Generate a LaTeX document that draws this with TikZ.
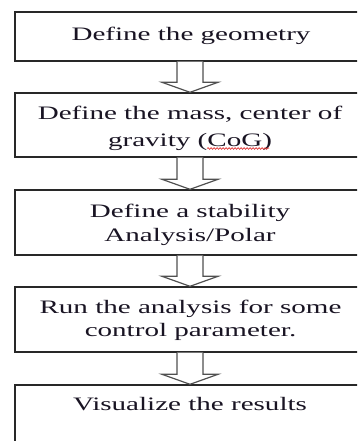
\documentclass[tikz,border=0pt]{standalone}
\usepackage{fontspec}
\setmainfont{Liberation Serif}[FakeStretch=1.53]
\usetikzlibrary{calc,decorations.pathmorphing}
\definecolor{boxline}{RGB}{40,40,40}
\definecolor{arrline}{RGB}{80,80,80}
\definecolor{txt}{RGB}{25,20,35}
\definecolor{spell}{RGB}{220,40,40}
\tikzset{
  stepbox/.style={draw=boxline, line width=1.4pt, fill=white, minimum width=350pt, inner sep=0pt},
  label/.style={anchor=base, text=txt, font=\fontsize{19}{27}\selectfont, inner sep=0pt},
  blockarr/.style={draw=arrline, line width=1.2pt, fill=white, line join=miter},
}
\newcommand{\hollowarrow}[2]{%
  \draw[blockarr] ($(#1.south)+(-13,0)$) -- ($(#2.north)+(-13,-10)$) -- ($(#2.north)+(-28,-10)$)
    -- (#2.north) -- ($(#2.north)+(28,-10)$) -- ($(#2.north)+(13,-10)$) -- ($(#1.south)+(13,0)$);}
\begin{document}
\begin{tikzpicture}[x=1pt,y=-1pt]
\useasboundingbox (0,0) rectangle (357,441);
\clip (0,0) rectangle (357,441);
% boxes
\node[stepbox, minimum height=49pt] (b1) at (190,36.5) {};
\node[stepbox, minimum height=64pt] (b2) at (190,125) {};
\node[stepbox, minimum height=65pt] (b3) at (190,222.5) {};
\node[stepbox, minimum height=65pt] (b4) at (190,319.5) {};
\node[stepbox, minimum height=65pt] (b5) at (190,417.5) {};
% arrows
\hollowarrow{b1}{b2}
\hollowarrow{b2}{b3}
\hollowarrow{b3}{b4}
\hollowarrow{b4}{b5}
% texts
\node[label] (t1) at (191,40.7) {Define the geometry};
\node[label] (t2a) at (190,120) {Define the mass, center of};
\node[label] (t2b) at (190,146) {gravity (CoG)};
\node[label] (t3a) at (190,217.3) {Define a stability};
\node[label] (t3b) at (190,241) {Analysis/Polar};
\node[label] (t4a) at (190.5,313.3) {Run the analysis for some};
\node[label] (t4b) at (190.5,336) {control parameter.};
\node[label] (t5) at (190,410) {Visualize the results};
% spell-check underline under CoG
\draw[spell, line width=0.6pt, decorate, decoration={snake, amplitude=0.9pt, segment length=3pt}]
  ($(t2b.base east)+(-65,2.5)$) -- ($(t2b.base east)+(-3,2.5)$);
\end{tikzpicture}
\end{document}
